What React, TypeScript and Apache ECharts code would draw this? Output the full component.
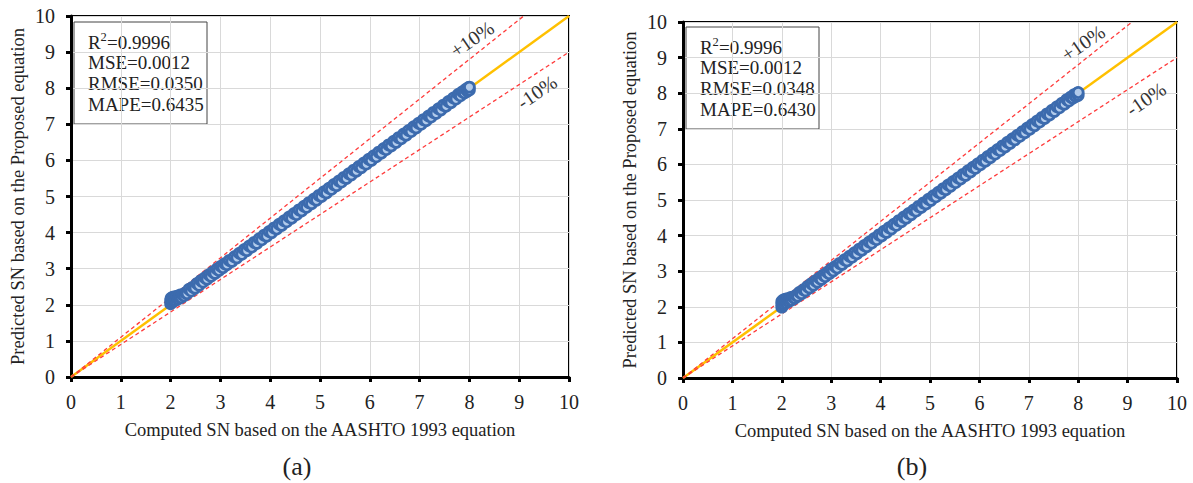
import React, { useEffect, useRef } from "react";
import * as echarts from "echarts";

// Panel (a) scatter points: [computed SN, predicted SN]
const aPoints = [
  [2.0, 2.03], [2.0, 2.12], [2.01, 2.18], [2.02, 2.07], [2.03, 2.15], [2.04, 2.21], [2.05, 2.1], [2.06, 2.17],
  [2.08, 2.22], [2.09, 2.12], [2.11, 2.19], [2.13, 2.24], [2.15, 2.16], [2.17, 2.22], [2.19, 2.27], [2.21, 2.2],
  [2.24, 2.28], [2.27, 2.25], [2.3, 2.33], [2.33, 2.31], [2.37, 2.43], [2.41, 2.38], [2.45, 2.49], [2.49, 2.46],
  [2.53, 2.59], [2.57, 2.54], [2.61, 2.67], [2.65, 2.63], [2.69, 2.75], [2.73, 2.71], [2.77, 2.83], [2.81, 2.79],
  [2.85, 2.91], [2.89, 2.87], [2.93, 2.99], [2.97, 2.95], [3.01, 3.07], [3.05, 3.03], [3.09, 3.14], [3.13, 3.11],
  [3.18, 3.23], [3.23, 3.2], [3.28, 3.33], [3.33, 3.3], [3.38, 3.43], [3.43, 3.4], [3.48, 3.53], [3.53, 3.5],
  [3.58, 3.63], [3.63, 3.6], [3.68, 3.73], [3.73, 3.7], [3.78, 3.83], [3.83, 3.8], [3.88, 3.93], [3.93, 3.9],
  [3.98, 4.03], [4.03, 4.0], [4.08, 4.13], [4.13, 4.1], [4.18, 4.23], [4.23, 4.2], [4.28, 4.33], [4.33, 4.3],
  [4.38, 4.43], [4.43, 4.4], [4.48, 4.53], [4.53, 4.5], [4.58, 4.63], [4.63, 4.6], [4.68, 4.73], [4.73, 4.7],
  [4.78, 4.83], [4.83, 4.8], [4.88, 4.93], [4.93, 4.9], [4.98, 5.03], [5.03, 5.0], [5.08, 5.13], [5.13, 5.1],
  [5.18, 5.23], [5.23, 5.2], [5.28, 5.33], [5.33, 5.3], [5.38, 5.43], [5.43, 5.4], [5.48, 5.53], [5.53, 5.5],
  [5.58, 5.63], [5.63, 5.6], [5.68, 5.73], [5.73, 5.7], [5.78, 5.83], [5.83, 5.8], [5.88, 5.93], [5.93, 5.9],
  [5.98, 6.03], [6.03, 6.0], [6.08, 6.13], [6.13, 6.1], [6.18, 6.23], [6.23, 6.2], [6.28, 6.33], [6.33, 6.3],
  [6.38, 6.43], [6.43, 6.4], [6.48, 6.53], [6.53, 6.5], [6.58, 6.63], [6.63, 6.6], [6.68, 6.73], [6.73, 6.7],
  [6.78, 6.83], [6.83, 6.8], [6.88, 6.93], [6.93, 6.9], [6.98, 7.03], [7.03, 7.0], [7.08, 7.13], [7.13, 7.1],
  [7.18, 7.23], [7.23, 7.2], [7.28, 7.33], [7.33, 7.3], [7.38, 7.43], [7.43, 7.4], [7.48, 7.53], [7.53, 7.5],
  [7.58, 7.63], [7.63, 7.6], [7.68, 7.73], [7.73, 7.7], [7.78, 7.83], [7.82, 7.79], [7.86, 7.9], [7.9, 7.87],
  [7.93, 7.97], [7.96, 7.92], [7.98, 8.01], [8.0, 7.95], [8.0, 8.03],
];

// Panel (b) scatter points
const bPoints = [
  [2.0, 1.99], [2.0, 2.08], [2.0, 2.15], [2.01, 2.04], [2.02, 2.12], [2.03, 2.19], [2.04, 2.07], [2.05, 2.16],
  [2.07, 2.21], [2.08, 2.11], [2.1, 2.18], [2.12, 2.23], [2.14, 2.15], [2.16, 2.21], [2.18, 2.26], [2.2, 2.19],
  [2.23, 2.27], [2.26, 2.24], [2.29, 2.32], [2.32, 2.3], [2.36, 2.41], [2.4, 2.37], [2.44, 2.48], [2.48, 2.45],
  [2.52, 2.57], [2.56, 2.53], [2.6, 2.65], [2.64, 2.61], [2.68, 2.73], [2.72, 2.69], [2.76, 2.81], [2.8, 2.77],
  [2.84, 2.89], [2.88, 2.85], [2.92, 2.97], [2.96, 2.93], [3.0, 3.06], [3.04, 3.01], [3.08, 3.13], [3.12, 3.09],
  [3.17, 3.22], [3.22, 3.19], [3.27, 3.32], [3.32, 3.29], [3.37, 3.42], [3.42, 3.39], [3.47, 3.52], [3.52, 3.49],
  [3.57, 3.62], [3.62, 3.59], [3.67, 3.72], [3.72, 3.69], [3.77, 3.82], [3.82, 3.79], [3.87, 3.92], [3.92, 3.89],
  [3.97, 4.02], [4.02, 3.99], [4.07, 4.12], [4.12, 4.09], [4.17, 4.22], [4.22, 4.19], [4.27, 4.32], [4.32, 4.29],
  [4.37, 4.42], [4.42, 4.39], [4.47, 4.52], [4.52, 4.49], [4.57, 4.62], [4.62, 4.59], [4.67, 4.72], [4.72, 4.69],
  [4.77, 4.82], [4.82, 4.79], [4.87, 4.92], [4.92, 4.89], [4.97, 5.02], [5.02, 4.99], [5.07, 5.12], [5.12, 5.09],
  [5.17, 5.22], [5.22, 5.19], [5.27, 5.32], [5.32, 5.29], [5.37, 5.42], [5.42, 5.39], [5.47, 5.52], [5.52, 5.49],
  [5.57, 5.62], [5.62, 5.59], [5.67, 5.72], [5.72, 5.69], [5.77, 5.82], [5.82, 5.79], [5.87, 5.92], [5.92, 5.89],
  [5.97, 6.02], [6.02, 5.99], [6.07, 6.12], [6.12, 6.09], [6.17, 6.22], [6.22, 6.19], [6.27, 6.32], [6.32, 6.29],
  [6.37, 6.42], [6.42, 6.39], [6.47, 6.52], [6.52, 6.49], [6.57, 6.62], [6.62, 6.59], [6.67, 6.72], [6.72, 6.69],
  [6.77, 6.82], [6.82, 6.79], [6.87, 6.92], [6.92, 6.89], [6.97, 7.02], [7.02, 6.99], [7.07, 7.12], [7.12, 7.09],
  [7.17, 7.22], [7.22, 7.19], [7.27, 7.32], [7.32, 7.29], [7.37, 7.42], [7.42, 7.39], [7.47, 7.52], [7.52, 7.49],
  [7.57, 7.62], [7.62, 7.59], [7.67, 7.72], [7.72, 7.69], [7.77, 7.82], [7.81, 7.78], [7.85, 7.89], [7.89, 7.86],
  [7.92, 7.96], [7.95, 7.91], [7.98, 8.0], [8.0, 7.94], [8.0, 8.02],
];

// Reference lines
const lineEqual = [[0, 0], [10, 10]];
const linePlus10 = [[0, 0], [9.09, 10]];
const lineMinus10 = [[0, 0], [10, 9]];

const statsA = ["0.9996", "0.0012", "0.0350", "0.6435"];
const statsB = ["0.9996", "0.0012", "0.0348", "0.6430"];

const xTitle = "Computed SN based on the AASHTO 1993 equation";
const yTitle = "Predicted SN based on the Proposed equation";
const panelLabels = ["(a)", "(b)"];

const FONT = "Liberation Serif";

export default function App() {
  const ref = useRef<HTMLDivElement>(null);
  useEffect(() => {
    if (!ref.current) return;
    const chart = echarts.init(ref.current, null, { renderer: "svg" });

    const grids = [
      { left: 71, top: 16, width: 498, height: 361 },
      { left: 683, top: 22, width: 494, height: 356 },
    ];

    const makeX = (i: number) => ({
      type: "value",
      gridIndex: i,
      min: 0,
      max: 10,
      interval: 1,
      name: xTitle,
      nameLocation: "middle",
      nameGap: 43,
      nameTextStyle: { fontFamily: FONT, fontSize: 18.5, color: "#222" },
      axisLine: { show: true, onZero: false, lineStyle: { color: "#000", width: 3 } },
      axisTick: { show: true, length: 5, lineStyle: { color: "#000", width: 3 } },
      axisLabel: { fontFamily: FONT, fontSize: 20, color: "#222", margin: 15 },
      splitLine: { show: true, lineStyle: { color: "#d9d9d9", width: 1 } },
    });
    const makeY = (i: number) => ({
      type: "value",
      gridIndex: i,
      min: 0,
      max: 10,
      interval: 1,
      name: yTitle,
      nameLocation: "middle",
      nameGap: 44,
      nameTextStyle: { fontFamily: FONT, fontSize: 18.5, color: "#222" },
      axisLine: { show: true, onZero: false, lineStyle: { color: "#000", width: 3 } },
      axisTick: { show: true, length: 5, lineStyle: { color: "#000", width: 3 } },
      axisLabel: { fontFamily: FONT, fontSize: 20, color: "#222", margin: 16 },
      splitLine: { show: true, lineStyle: { color: "#d9d9d9", width: 1 } },
    });

    const series: any[] = [];
    const pts = [aPoints, bPoints];
    [0, 1].forEach((i) => {
      series.push({
        type: "line",
        xAxisIndex: i,
        yAxisIndex: i,
        data: lineEqual,
        showSymbol: false,
        lineStyle: { color: "#FFC000", width: 2.5 },
        z: 2,
      });
      series.push({
        type: "line",
        xAxisIndex: i,
        yAxisIndex: i,
        data: linePlus10,
        showSymbol: false,
        lineStyle: { color: "#FF3B3B", width: 1.3, type: [4, 3] },
        z: 3,
      });
      series.push({
        type: "line",
        xAxisIndex: i,
        yAxisIndex: i,
        data: lineMinus10,
        showSymbol: false,
        lineStyle: { color: "#FF3B3B", width: 1.3, type: [4, 3] },
        z: 3,
      });
      series.push({
        type: "scatter",
        xAxisIndex: i,
        yAxisIndex: i,
        data: pts[i],
        symbolSize: 10,
        itemStyle: { color: "#B2CBEB", borderColor: "#3C6BAE", borderWidth: 2.8, opacity: 1 },
        z: 4,
      });
    });

    const statBox = (x: number, y: number, vals: string[]) => {
      const tx = 14;
      const lh = 20.7;
      const first = 20;
      const base = { fontFamily: FONT, fontSize: 19, fill: "#222", verticalAlign: "middle" };
      return {
        type: "group",
        x,
        y,
        z: 100,
        children: [
          { type: "rect", shape: { x: 0, y: 0, width: 133, height: 102 }, style: { fill: "#fff", stroke: "#444", lineWidth: 1 } },
          { type: "text", x: tx, y: first, style: { ...base, text: "R" } },
          { type: "text", x: tx + 12.5, y: first - 5, style: { ...base, fontSize: 12.5, text: "2" } },
          { type: "text", x: tx + 19, y: first, style: { ...base, text: "=" + vals[0] } },
          { type: "text", x: tx, y: first + lh, style: { ...base, text: "MSE=" + vals[1] } },
          { type: "text", x: tx, y: first + 2 * lh, style: { ...base, text: "RMSE=" + vals[2] } },
          { type: "text", x: tx, y: first + 3 * lh, style: { ...base, text: "MAPE=" + vals[3] } },
        ],
      };
    };

    const pctLabel = (x: number, y: number, text: string) => ({
      type: "text",
      x,
      y,
      rotation: 0.6,
      z: 100,
      style: { text, fontFamily: FONT, fontSize: 20, fill: "#333", align: "center", verticalAlign: "middle" },
    });

    chart.setOption({
      animation: false,
      grid: grids.map((g) => ({ ...g, show: true, borderColor: "#000", borderWidth: 2, backgroundColor: "transparent" })),
      xAxis: [makeX(0), makeX(1)],
      yAxis: [makeY(0), makeY(1)],
      series,
      graphic: [
        statBox(74, 22, statsA),
        statBox(686, 27, statsB),
        pctLabel(472, 39, "+10%"),
        pctLabel(537, 92, "-10%"),
        pctLabel(1083, 43, "+10%"),
        pctLabel(1146, 99, "-10%"),
        { type: "text", x: 297, y: 466, style: { text: panelLabels[0], fontFamily: FONT, fontSize: 26, fill: "#222", align: "center", verticalAlign: "middle" } },
        { type: "text", x: 912, y: 466, style: { text: panelLabels[1], fontFamily: FONT, fontSize: 26, fill: "#222", align: "center", verticalAlign: "middle" } },
      ],
    });
    return () => chart.dispose();
  }, []);
  return (
    <div
      ref={ref}
      style={{ position: "absolute", left: 0, top: 0, width: 1193, height: 483, background: "#fff" }}
    />
  );
}
